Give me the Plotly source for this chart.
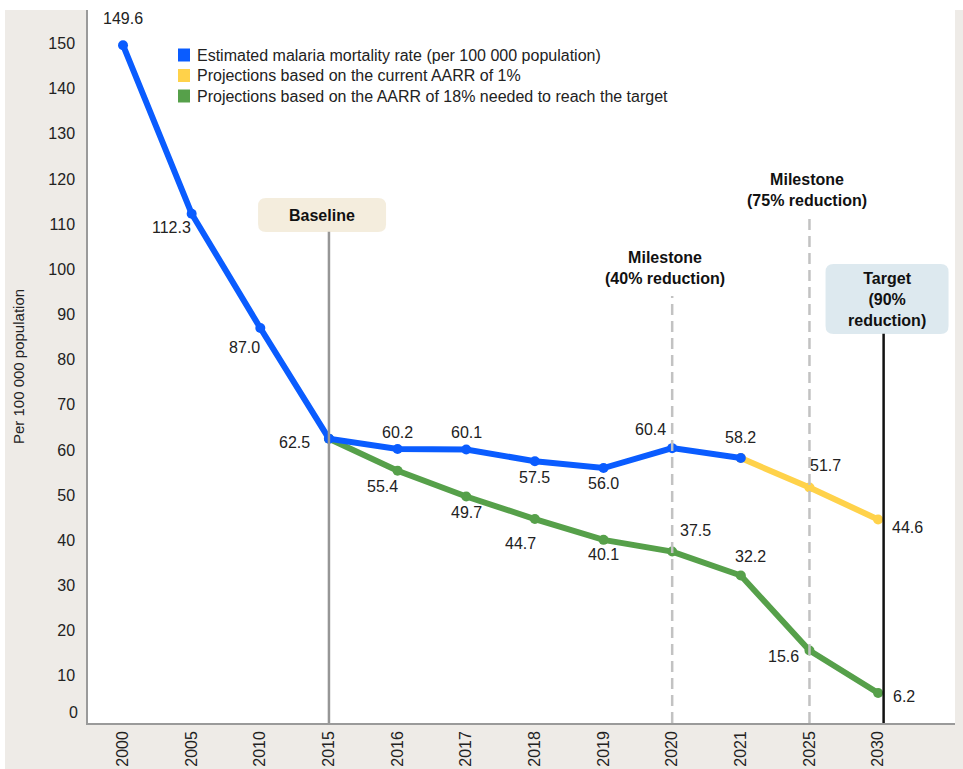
import plotly.graph_objects as go

categories = ["2000", "2005", "2010", "2015", "2016", "2017", "2018", "2019", "2020", "2021", "2025", "2030"]

est_years = ["2000", "2005", "2010", "2015", "2016", "2017", "2018", "2019", "2020", "2021"]
est_values = [149.6, 112.3, 87.0, 62.5, 60.2, 60.1, 57.5, 56.0, 60.4, 58.2]

cur_years = ["2021", "2025", "2030"]
cur_values = [58.2, 51.7, 44.6]

tgt_years = ["2015", "2016", "2017", "2018", "2019", "2020", "2021", "2025", "2030"]
tgt_values = [62.5, 55.4, 49.7, 44.7, 40.1, 37.5, 32.2, 15.6, 6.2]

series_names = ["Estimated malaria mortality rate (per 100 000 population)",
                "Projections based on the current AARR of 1%",
                "Projections based on the AARR of 18% needed to reach the target"]

y_ticks = list(range(10, 151, 10))

BLUE = "#0a5cff"
YELLOW = "#ffd24a"
GREEN = "#56a04a"
BEIGE = "#eeebe7"
FONT = "Liberation Sans, Arial, sans-serif"
FS = 16

W, H = 963, 769
ML, MR, MT, MB = 88, 8, 10, 46
XR = [-0.51, 12.12]
YR = [-0.45, 157.4]
PW, PH = W - ML - MR, H - MT - MB
XPX = PW / (XR[1] - XR[0])  # px per x unit
YPX = PH / (YR[1] - YR[0])  # px per y unit

idx = {c: i for i, c in enumerate(categories)}

fig = go.Figure()
fig.add_trace(go.Scatter(x=[idx[c] for c in tgt_years], y=tgt_values, mode="lines+markers",
                         name=series_names[2],
                         line=dict(color=GREEN, width=6), marker=dict(size=10, color=GREEN),
                         showlegend=False))
fig.add_trace(go.Scatter(x=[idx[c] for c in cur_years], y=cur_values, mode="lines+markers",
                         name=series_names[1],
                         line=dict(color=YELLOW, width=6), marker=dict(size=10, color=YELLOW),
                         showlegend=False))
fig.add_trace(go.Scatter(x=[idx[c] for c in est_years], y=est_values, mode="lines+markers",
                         name=series_names[0],
                         line=dict(color=BLUE, width=6), marker=dict(size=10, color=BLUE),
                         showlegend=False))

# manual legend (paper coords)
def px_x(px):
    return (px - ML) / PW

def px_y(py):
    return (H - MB - py) / PH

for i, (name, col) in enumerate(zip(series_names, [BLUE, YELLOW, GREEN])):
    cy = 55 + i * 20.5
    fig.add_shape(type="rect", xref="paper", yref="paper",
                  x0=px_x(178), x1=px_x(190), y0=px_y(cy + 6.5), y1=px_y(cy - 6.5),
                  fillcolor=col, line=dict(width=0))
    fig.add_annotation(xref="paper", yref="paper", x=px_x(195), y=px_y(cy), xanchor="left",
                       yanchor="middle", text=name, showarrow=False,
                       font=dict(family=FONT, size=FS, color="#222"))

# data label offsets in px: (xshift, yshift)
est_offsets = [(0, 27), (-20, -14), (-16, -20), (-34, -4), (0, 17), (0, 17), (0, -16), (0, -15), (-22, 19), (0, 21)]
cur_offsets = [None, (16, 22), (29, -8)]
tgt_offsets = [None, (-15, -16), (0, -16), (-14, -24), (0, -15), (23, 21), (10, 19), (-26, -6), (26, -4)]

def add_labels(years, values, offsets):
    for y_, v, off in zip(years, values, offsets):
        if off is None:
            continue
        fig.add_annotation(x=idx[y_], y=v, text=f"{v:.1f}", showarrow=False,
                           xshift=off[0], yshift=off[1],
                           font=dict(family=FONT, size=FS, color="#222"))

add_labels(est_years, est_values, est_offsets)
add_labels(cur_years, cur_values, cur_offsets)
add_labels(tgt_years, tgt_values, tgt_offsets)

# reference lines (drawn over the data lines, as in the original)
yb = YR[0]
fig.add_shape(type="line", x0=idx["2015"], x1=idx["2015"], y0=yb, y1=108.3,
              line=dict(color="#969696", width=2.5), layer="above")
fig.add_shape(type="line", x0=idx["2020"], x1=idx["2020"], y0=yb, y1=94.1,
              line=dict(color="#c2c2c2", width=2.5, dash="11px,6px"), layer="above")
fig.add_shape(type="line", x0=idx["2025"], x1=idx["2025"], y0=yb, y1=111.4,
              line=dict(color="#c2c2c2", width=2.5, dash="11px,6px"), layer="above")
fig.add_shape(type="line", x0=idx["2030"] + 0.08, x1=idx["2030"] + 0.08, y0=yb, y1=85.7,
              line=dict(color="#111111", width=2.5), layer="above")


def rounded_box(cx, cy, wpx, hpx, rpx, color):
    hw, hh = wpx / 2 / XPX, hpx / 2 / YPX
    rx, ry = rpx / XPX, rpx / YPX
    x0, x1, y0, y1 = cx - hw, cx + hw, cy - hh, cy + hh
    path = (f"M {x0+rx},{y0} L {x1-rx},{y0} Q {x1},{y0} {x1},{y0+ry} "
            f"L {x1},{y1-ry} Q {x1},{y1} {x1-rx},{y1} "
            f"L {x0+rx},{y1} Q {x0},{y1} {x0},{y1-ry} "
            f"L {x0},{y0+ry} Q {x0},{y0} {x0+rx},{y0} Z")
    fig.add_shape(type="path", path=path, fillcolor=color, line=dict(width=0), layer="below")


rounded_box(idx["2015"] - 0.1, 112.0, 128, 34, 8, "#f4eddd")
rounded_box(idx["2030"] + 0.13, 93.4, 123, 70, 8, "#dde9ef")

fig.add_annotation(x=idx["2015"] - 0.1, y=112.0, text="<b>Baseline</b>", showarrow=False,
                   font=dict(family=FONT, size=FS, color="#111"))
fig.add_annotation(x=idx["2020"] - 0.1, y=100.3, text="<b>Milestone<br>(40% reduction)</b>", showarrow=False,
                   font=dict(family=FONT, size=FS, color="#111"))
fig.add_annotation(x=idx["2025"] - 0.04, y=117.6, text="<b>Milestone<br>(75% reduction)</b>", showarrow=False,
                   font=dict(family=FONT, size=FS, color="#111"))
fig.add_annotation(x=idx["2030"] + 0.13, y=93.4, text="<b>Target<br>(90%<br>reduction)</b>", showarrow=False,
                   font=dict(family=FONT, size=FS, color="#111"))

# zero tick label (sits slightly above the baseline in the original)
fig.add_annotation(xref="paper", x=0, xanchor="right", xshift=-8, y=0, yshift=8, text="0",
                   showarrow=False, font=dict(family=FONT, size=FS, color="#222"))

# white strips outside the beige panel
fig.add_shape(type="rect", xref="paper", yref="paper", x0=-0.2, x1=1.1, y0=1.0, y1=1.05,
              fillcolor="white", line=dict(width=0), layer="below")
fig.add_shape(type="rect", xref="paper", yref="paper", x0=-0.2, x1=-(ML - 5) / PW, y0=-0.1, y1=1.05,
              fillcolor="white", line=dict(width=0), layer="below")

fig.update_layout(
    width=W, height=H,
    margin=dict(l=ML, r=MR, t=MT, b=MB, autoexpand=False),
    paper_bgcolor=BEIGE, plot_bgcolor="white",
    font=dict(family=FONT, size=FS, color="#222"),
    showlegend=False,
    xaxis=dict(tickmode="array", tickvals=list(range(len(categories))), ticktext=categories,
               range=XR, tickangle=-90, showgrid=False, zeroline=False, automargin=False,
               showline=True, linecolor="#9a9a9a", linewidth=1.5, ticks="",
               tickfont=dict(family=FONT, size=FS, color="#222")),
    yaxis=dict(range=YR, tickmode="array", tickvals=y_ticks, automargin=False,
               showgrid=False, zeroline=False, showline=True, linecolor="#9a9a9a", linewidth=1.5,
               ticks="", ticklabelstandoff=8,
               title=dict(text="Per 100 000 population", font=dict(family=FONT, size=15, color="#222"),
                          standoff=20),
               tickfont=dict(family=FONT, size=FS, color="#222")),
)

fig.write_html("out.html")
